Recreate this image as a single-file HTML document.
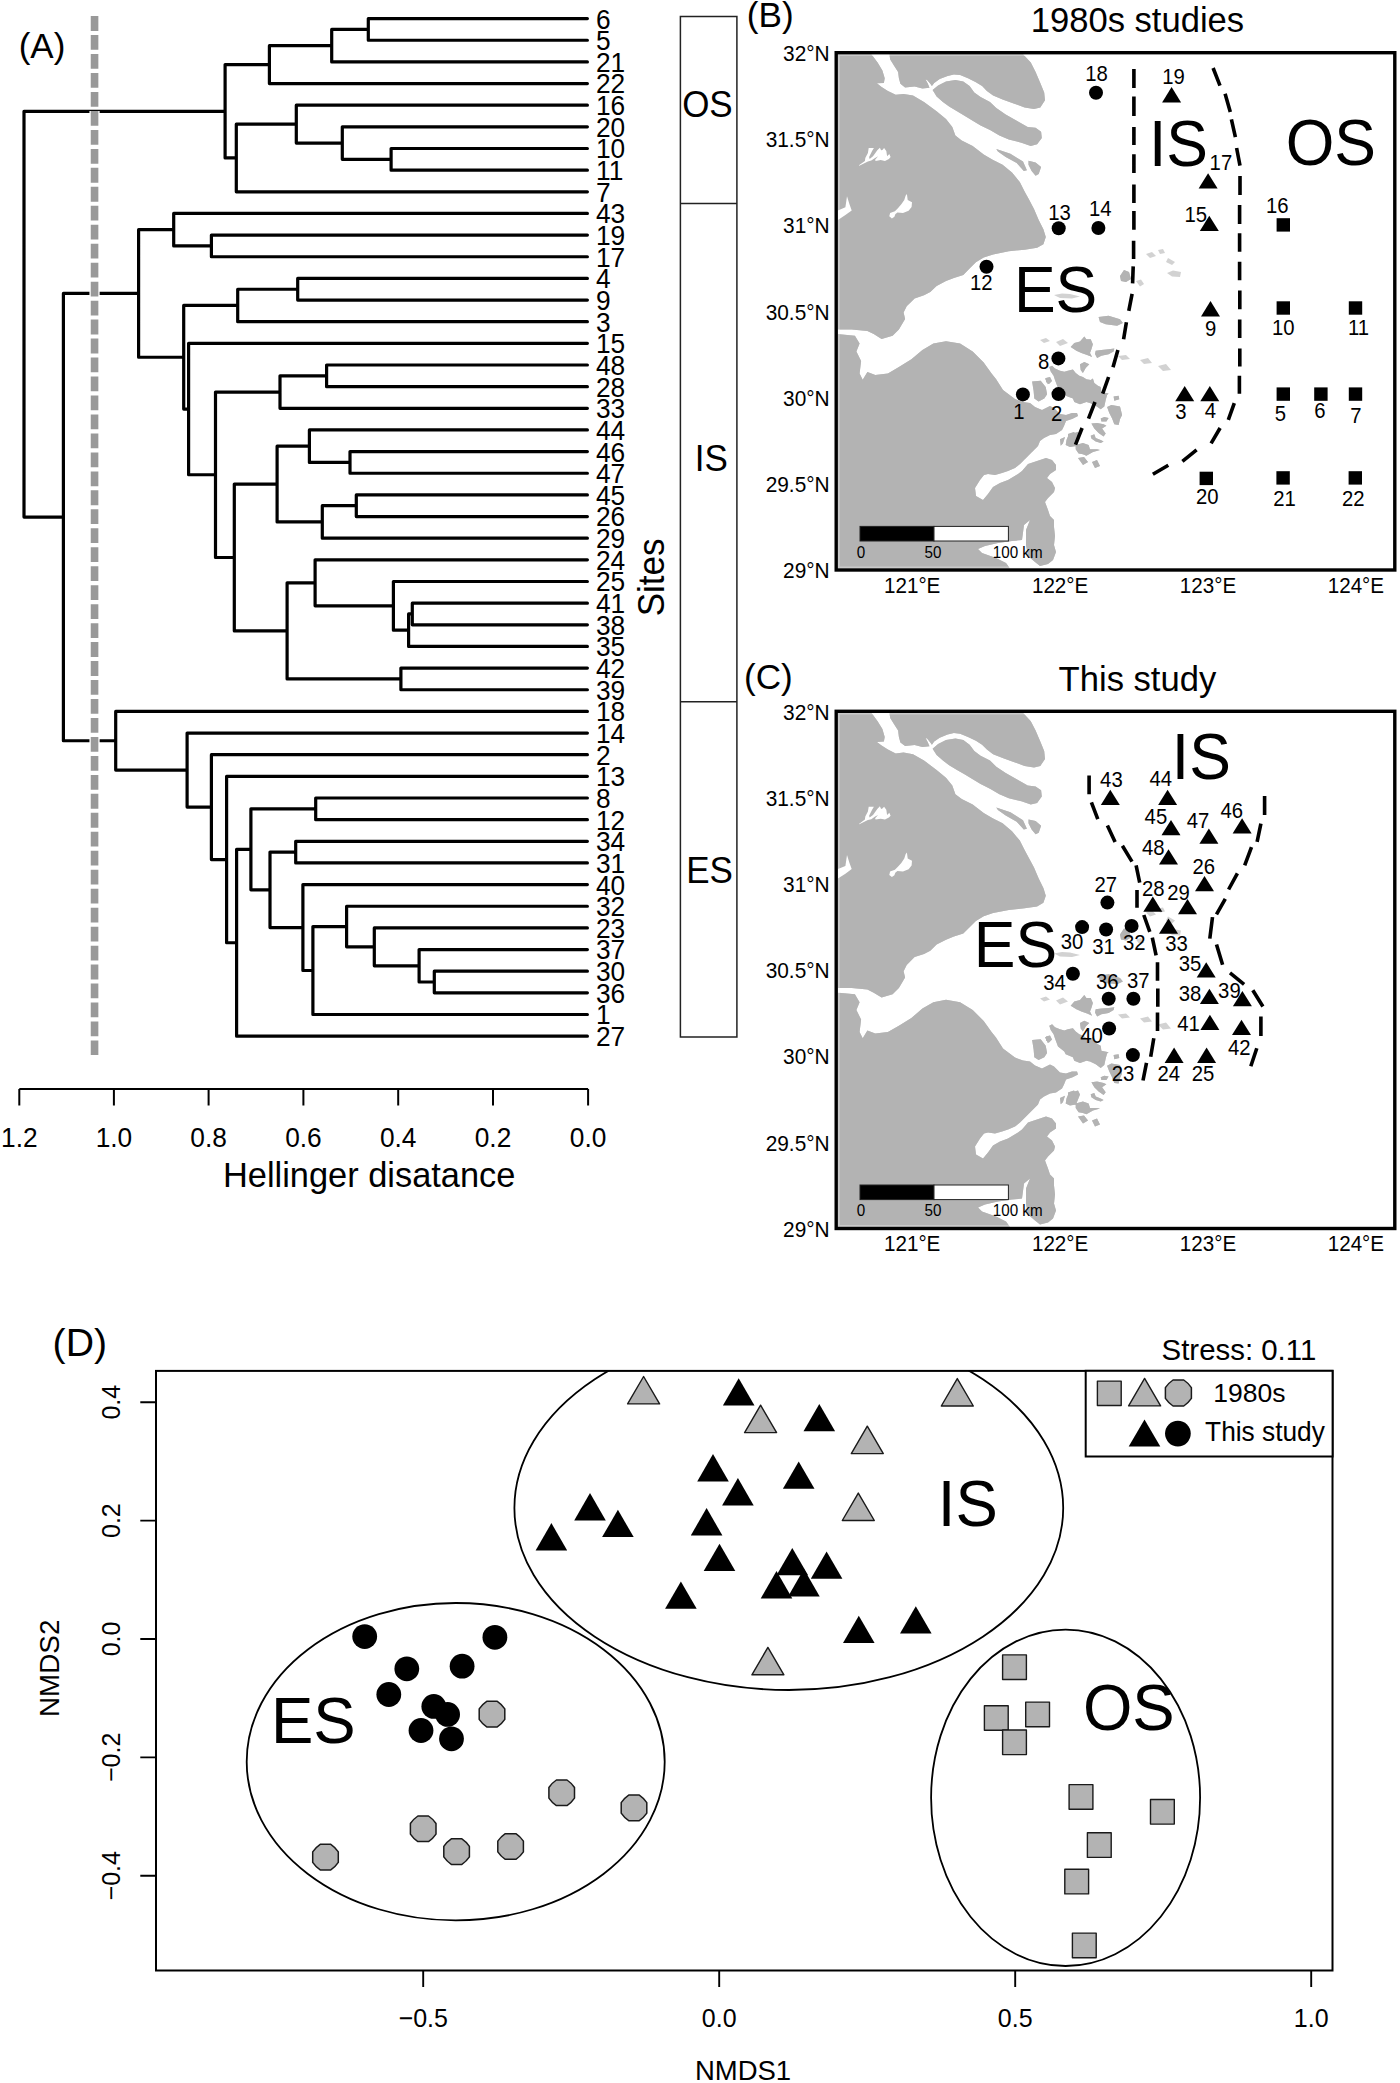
<!DOCTYPE html>
<html><head><meta charset="utf-8"><title>Figure</title>
<style>html,body{margin:0;padding:0;background:#fff;} svg{display:block;}</style>
</head><body>
<svg width="1400" height="2083" viewBox="0 0 1400 2083" font-family="'Liberation Sans', Arial, Helvetica, sans-serif" fill="#000">
<rect width="1400" height="2083" fill="#fff"/>
<path d="M587.4 18.60H368.3V40.25H587.4M368.3 29.43H331.7V61.90H587.4M331.7 45.66H269.4V83.55H587.4M587.4 148.50H391.1V170.15H587.4M587.4 126.85H342.3V159.32H391.1M587.4 105.20H296.3V143.09H342.3M296.3 124.14H236.3V191.80H587.4M269.4 64.61H225.1V157.97H236.3M587.4 235.10H211.4V256.75H587.4M587.4 213.45H173.7V245.93H211.4M587.4 278.40H297.7V300.05H587.4M297.7 289.23H237.7V321.70H587.4M587.4 365.00H326.6V386.65H587.4M326.6 375.82H280.0V408.30H587.4M587.4 451.60H350.0V473.25H587.4M587.4 429.95H309.4V462.43H350.0M587.4 494.90H356.3V516.55H587.4M356.3 505.72H322.3V538.20H587.4M309.4 446.19H277.1V521.96H322.3M587.4 603.15H412.3V624.80H587.4M412.3 613.97H408.6V646.45H587.4M587.4 581.50H393.4V630.21H408.6M587.4 559.85H315.1V605.86H393.4M587.4 668.10H400.9V689.75H587.4M315.1 582.85H287.1V678.92H400.9M277.1 484.07H234.3V630.89H287.1M280.0 392.06H215.5V557.48H234.3M587.4 343.35H188.6V474.77H215.5M237.7 305.46H183.7V409.06H188.6M173.7 229.69H138.6V357.26H183.7M587.4 798.00H315.7V819.65H587.4M587.4 841.30H295.7V862.95H587.4M587.4 971.20H434.3V992.85H587.4M587.4 949.55H419.1V982.02H434.3M587.4 927.90H374.3V965.79H419.1M587.4 906.25H346.6V946.84H374.3M346.6 926.55H312.9V1014.50H587.4M587.4 884.60H302.9V970.52H312.9M295.7 852.12H270.0V927.56H302.9M315.7 808.83H250.9V889.84H270.0M250.9 849.33H236.6V1036.15H587.4M587.4 776.35H226.6V942.74H236.6M587.4 754.70H211.4V859.55H226.6M587.4 733.05H187.1V807.12H211.4M587.4 711.40H115.7V770.09H187.1M138.6 293.47H63.4V740.74H115.7M225.1 111.29H24.0V517.11H63.4" fill="none" stroke="#000" stroke-width="3.2" stroke-linejoin="round" stroke-linecap="round"/>
<line x1="94.55" y1="16.1" x2="94.55" y2="1055" stroke="#fff" stroke-width="10.2" stroke-dasharray="14.8 4.17"/>
<line x1="94.55" y1="16.1" x2="94.55" y2="1055" stroke="#999" stroke-width="7.6" stroke-dasharray="14.8 4.17"/>
<text transform="translate(596.00 28.50) scale(1 1.02)" font-size="26.3">6</text>
<text transform="translate(596.00 50.15) scale(1 1.02)" font-size="26.3">5</text>
<text transform="translate(596.00 71.80) scale(1 1.02)" font-size="26.3">21</text>
<text transform="translate(596.00 93.45) scale(1 1.02)" font-size="26.3">22</text>
<text transform="translate(596.00 115.10) scale(1 1.02)" font-size="26.3">16</text>
<text transform="translate(596.00 136.75) scale(1 1.02)" font-size="26.3">20</text>
<text transform="translate(596.00 158.40) scale(1 1.02)" font-size="26.3">10</text>
<text transform="translate(596.00 180.05) scale(1 1.02)" font-size="26.3">11</text>
<text transform="translate(596.00 201.70) scale(1 1.02)" font-size="26.3">7</text>
<text transform="translate(596.00 223.35) scale(1 1.02)" font-size="26.3">43</text>
<text transform="translate(596.00 245.00) scale(1 1.02)" font-size="26.3">19</text>
<text transform="translate(596.00 266.65) scale(1 1.02)" font-size="26.3">17</text>
<text transform="translate(596.00 288.30) scale(1 1.02)" font-size="26.3">4</text>
<text transform="translate(596.00 309.95) scale(1 1.02)" font-size="26.3">9</text>
<text transform="translate(596.00 331.60) scale(1 1.02)" font-size="26.3">3</text>
<text transform="translate(596.00 353.25) scale(1 1.02)" font-size="26.3">15</text>
<text transform="translate(596.00 374.90) scale(1 1.02)" font-size="26.3">48</text>
<text transform="translate(596.00 396.55) scale(1 1.02)" font-size="26.3">28</text>
<text transform="translate(596.00 418.20) scale(1 1.02)" font-size="26.3">33</text>
<text transform="translate(596.00 439.85) scale(1 1.02)" font-size="26.3">44</text>
<text transform="translate(596.00 461.50) scale(1 1.02)" font-size="26.3">46</text>
<text transform="translate(596.00 483.15) scale(1 1.02)" font-size="26.3">47</text>
<text transform="translate(596.00 504.80) scale(1 1.02)" font-size="26.3">45</text>
<text transform="translate(596.00 526.45) scale(1 1.02)" font-size="26.3">26</text>
<text transform="translate(596.00 548.10) scale(1 1.02)" font-size="26.3">29</text>
<text transform="translate(596.00 569.75) scale(1 1.02)" font-size="26.3">24</text>
<text transform="translate(596.00 591.40) scale(1 1.02)" font-size="26.3">25</text>
<text transform="translate(596.00 613.05) scale(1 1.02)" font-size="26.3">41</text>
<text transform="translate(596.00 634.70) scale(1 1.02)" font-size="26.3">38</text>
<text transform="translate(596.00 656.35) scale(1 1.02)" font-size="26.3">35</text>
<text transform="translate(596.00 678.00) scale(1 1.02)" font-size="26.3">42</text>
<text transform="translate(596.00 699.65) scale(1 1.02)" font-size="26.3">39</text>
<text transform="translate(596.00 721.30) scale(1 1.02)" font-size="26.3">18</text>
<text transform="translate(596.00 742.95) scale(1 1.02)" font-size="26.3">14</text>
<text transform="translate(596.00 764.60) scale(1 1.02)" font-size="26.3">2</text>
<text transform="translate(596.00 786.25) scale(1 1.02)" font-size="26.3">13</text>
<text transform="translate(596.00 807.90) scale(1 1.02)" font-size="26.3">8</text>
<text transform="translate(596.00 829.55) scale(1 1.02)" font-size="26.3">12</text>
<text transform="translate(596.00 851.20) scale(1 1.02)" font-size="26.3">34</text>
<text transform="translate(596.00 872.85) scale(1 1.02)" font-size="26.3">31</text>
<text transform="translate(596.00 894.50) scale(1 1.02)" font-size="26.3">40</text>
<text transform="translate(596.00 916.15) scale(1 1.02)" font-size="26.3">32</text>
<text transform="translate(596.00 937.80) scale(1 1.02)" font-size="26.3">23</text>
<text transform="translate(596.00 959.45) scale(1 1.02)" font-size="26.3">37</text>
<text transform="translate(596.00 981.10) scale(1 1.02)" font-size="26.3">30</text>
<text transform="translate(596.00 1002.75) scale(1 1.02)" font-size="26.3">36</text>
<text transform="translate(596.00 1024.40) scale(1 1.02)" font-size="26.3">1</text>
<text transform="translate(596.00 1046.05) scale(1 1.02)" font-size="26.3">27</text>
<path d="M19.3 1089H588.1M19.3 1089V1105.5M113.9 1089V1105.5M208.6 1089V1105.5M303.4 1089V1105.5M398.2 1089V1105.5M493.0 1089V1105.5M588.1 1089V1105.5" stroke="#000" stroke-width="2" fill="none"/>
<text transform="translate(19.30 1146.60) scale(1 1.02)" font-size="26.3" text-anchor="middle">1.2</text>
<text transform="translate(113.90 1146.60) scale(1 1.02)" font-size="26.3" text-anchor="middle">1.0</text>
<text transform="translate(208.60 1146.60) scale(1 1.02)" font-size="26.3" text-anchor="middle">0.8</text>
<text transform="translate(303.40 1146.60) scale(1 1.02)" font-size="26.3" text-anchor="middle">0.6</text>
<text transform="translate(398.20 1146.60) scale(1 1.02)" font-size="26.3" text-anchor="middle">0.4</text>
<text transform="translate(493.00 1146.60) scale(1 1.02)" font-size="26.3" text-anchor="middle">0.2</text>
<text transform="translate(588.10 1146.60) scale(1 1.02)" font-size="26.3" text-anchor="middle">0.0</text>
<text transform="translate(369.20 1187.40) scale(1 1.03)" font-size="34.4" text-anchor="middle">Hellinger disatance</text>
<text transform="translate(18.70 57.70) scale(1 1.02)" font-size="35">(A)</text>
<path d="M680.4 16.4H736.9V1037.1H680.4ZM680.4 203.4H736.9M680.4 701.8H736.9" fill="none" stroke="#222" stroke-width="1.5"/>
<text transform="translate(707.40 117.40) scale(1 1.03)" font-size="35" text-anchor="middle">OS</text>
<text transform="translate(711.40 471.00) scale(1 1.03)" font-size="35" text-anchor="middle">IS</text>
<text transform="translate(709.50 882.90) scale(1 1.03)" font-size="35" text-anchor="middle">ES</text>
<text transform="translate(663.70 577.40) rotate(-90) scale(1 1.03)" font-size="35" text-anchor="middle">Sites</text>
<defs><clipPath id="lclip"><rect x="839.8" y="55.9" width="553" height="510.6"/></clipPath></defs>
<g transform="translate(0 0)"><path d="M837.9 54.2L871.4 54.2L877.6 62.6L882.4 70.4L884.7 78.3L883.9 83.0L876.9 83.3L881.6 86.9L887.9 90.9L895.7 94.8L903.6 94.0L913.0 95.6L924.0 101.9L936.6 111.3L946.0 119.1L952.3 127.0L955.4 135.6L961.7 140.4L972.7 145.9L983.7 154.5L993.1 160.0L1002.6 164.7L1012.0 172.6L1019.8 182.0L1024.6 191.4L1029.3 200.1L1034.0 208.9L1038.7 219.9L1043.4 229.3L1045.8 237.1L1043.4 244.2L1037.1 247.8L1024.6 249.7L1008.8 251.3L993.1 254.4L983.7 257.6L975.9 262.3L969.6 268.6L963.3 274.9L953.9 278.0L946.0 281.1L936.6 285.9L930.3 292.1L924.0 295.3L914.6 298.4L906.7 306.3L903.6 312.6L905.1 318.9L898.9 329.4L892.6 335.7L881.6 338.9L873.7 334.1L867.4 331.0L851.7 329.4L837.9 329.4ZM889.4 54.2L1023.0 54.2L1030.8 62.6L1035.6 72.0L1040.3 83.0L1044.2 92.4L1045.0 100.3L1040.3 107.4L1034.0 108.9L1024.6 107.4L1013.6 103.4L1002.6 99.5L993.1 95.6L986.9 90.9L982.1 86.1L975.9 82.2L968.0 78.3L960.1 75.1L953.9 74.4L947.6 75.9L939.7 79.1L934.2 83.0L931.9 86.1L930.3 83.8L927.1 79.9L925.6 79.5L927.9 83.8L929.5 87.7L922.4 88.5L914.6 86.5L905.1 87.4L900.4 83.8L898.9 78.3L898.1 72.0L894.1 65.7L890.2 59.4ZM932.6 90.1L938.1 85.4L946.0 81.4L955.4 79.9L963.3 81.4L969.6 86.1L974.3 92.4L980.6 97.1L990.0 101.9L996.3 108.1L1005.7 114.4L1016.7 120.7L1027.7 127.0L1035.6 127.8L1041.1 131.7L1041.8 138.0L1037.1 144.3L1030.8 145.9L1021.4 142.7L1008.8 139.6L999.4 135.6L990.0 130.1L980.6 125.4L972.7 120.7L964.9 116.0L957.0 111.3L949.1 106.6L942.9 101.9L936.6 96.4ZM996.3 149.0L1010.4 153.7L1023.0 161.6L1026.9 170.2L1023.8 171.0L1016.7 163.1L1005.7 156.9L997.9 151.4ZM1028.5 160.8L1035.6 162.4L1041.1 167.1L1038.7 174.1L1035.6 175.7L1031.6 171.0L1028.5 164.7ZM837.9 334.1L854.9 335.7L859.6 343.6L856.4 351.4L861.1 360.9L859.6 373.4L862.7 379.7L867.4 371.9L875.3 375.0L887.9 373.4L898.9 367.1L911.4 359.3L922.4 349.9L933.4 343.6L946.0 341.2L960.1 343.6L972.7 351.4L983.7 362.4L991.6 373.4L996.0 379.0L1003.0 390.0L1015.0 399.0L1023.0 402.0L1030.0 403.0L1035.0 407.0L1042.0 410.0L1046.0 408.0L1050.0 406.0L1054.0 408.0L1060.0 414.0L1066.0 415.0L1072.0 413.0L1077.0 413.0L1078.0 416.0L1072.0 419.0L1066.0 421.0L1064.0 426.0L1062.0 430.0L1056.0 434.0L1050.0 435.0L1044.0 438.0L1040.0 441.0L1038.0 446.0L1032.0 452.0L1025.0 459.0L1020.0 464.0L1015.0 468.0L1008.0 471.0L1002.0 473.0L995.0 475.0L988.0 474.0L984.0 475.0L980.0 480.0L975.0 488.0L976.0 496.0L983.0 500.0L988.0 494.0L993.0 487.0L1000.0 483.0L1008.0 480.0L1013.0 477.0L1018.0 474.0L1022.0 471.0L1028.0 464.0L1034.0 462.0L1040.0 460.0L1046.0 458.0L1052.0 460.0L1056.0 465.0L1056.0 470.0L1050.0 474.0L1047.0 478.0L1052.0 482.0L1055.0 488.0L1054.0 492.0L1048.0 498.0L1045.0 502.0L1048.0 510.0L1050.0 516.0L1054.0 520.0L1054.0 527.0L1055.0 536.0L1054.0 545.0L1056.0 552.0L1053.0 560.0L1048.0 564.0L1040.0 566.0L1035.0 562.0L1028.0 556.0L1026.0 545.0L1026.0 530.0L1030.0 520.0L1024.0 525.0L1022.0 540.0L1012.0 541.0L998.0 543.0L985.0 546.0L978.0 549.0L982.0 553.0L996.0 558.0L1006.0 563.0L1010.0 568.5L837.9 568.5ZM1049.3 367.1L1052.1 365.7L1055.0 368.6L1060.0 370.7L1064.3 371.8L1067.9 370.7L1072.9 369.6L1075.7 372.9L1079.3 375.7L1082.9 377.1L1086.4 379.3L1090.7 380.0L1092.9 378.6L1094.3 382.9L1097.9 385.7L1100.7 387.1L1101.4 392.1L1108.6 393.6L1107.1 395.0L1105.7 400.0L1104.3 406.4L1100.7 409.3L1095.7 405.7L1090.0 402.9L1086.4 402.1L1080.0 404.3L1074.3 402.1L1072.9 398.6L1065.7 395.7L1064.3 392.9L1058.0 388.0L1055.0 380.0L1053.6 375.7L1050.7 371.4ZM1070.7 347.1L1074.3 342.9L1080.0 341.4L1084.3 336.4L1086.4 339.3L1090.7 339.3L1092.9 344.3L1091.4 349.3L1090.0 352.9L1092.1 357.1L1087.1 355.0L1081.4 352.9L1076.4 350.7ZM1095.7 350.7L1101.4 350.0L1108.6 349.3L1114.3 348.6L1113.6 351.4L1108.6 354.3L1101.4 355.7L1097.1 357.9L1095.0 354.0ZM1080.0 364.3L1084.3 362.1L1089.3 364.3L1085.7 367.9L1082.9 372.9L1080.7 370.0ZM1032.1 381.4L1040.7 380.7L1045.7 387.1L1047.1 394.3L1044.3 398.6L1038.6 401.4L1034.3 398.6L1033.6 390.7ZM1045.0 378.6L1050.0 377.1L1051.4 381.4L1047.9 384.3ZM1098.6 317.1L1108.6 315.7L1120.0 319.3L1122.9 322.9L1117.1 325.7L1105.7 324.3L1100.0 322.1ZM1065.7 445.0L1066.5 440.0L1068.6 435.0L1074.3 432.9L1078.0 432.0L1080.0 436.0L1076.0 446.0L1070.0 447.0ZM1075.7 445.0L1082.9 442.9L1088.6 445.0L1090.0 449.3L1097.1 449.3L1100.0 450.0L1093.0 452.0L1086.4 455.7L1082.9 454.3L1078.6 453.6L1075.7 449.3ZM1091.4 423.6L1097.1 422.9L1103.6 424.3L1106.4 425.7L1102.1 428.6L1105.7 433.6L1103.6 436.4L1098.6 432.9L1094.3 428.6ZM1090.7 435.7L1094.3 434.3L1095.7 437.9L1100.7 440.0L1103.6 441.4L1100.7 442.9L1095.7 441.4L1091.4 438.6ZM1100.7 418.6L1104.3 417.1L1108.6 417.9L1106.4 421.4L1101.4 421.4ZM1107.1 407.1L1111.4 405.0L1115.7 405.7L1120.0 406.4L1122.1 415.0L1120.0 419.3L1118.6 425.0L1114.3 424.3L1112.1 418.6L1109.3 412.9ZM1060.0 439.3L1065.0 437.1L1062.9 443.6L1060.7 445.7ZM1113.6 396.4L1118.6 395.7L1119.3 399.3L1114.3 400.7ZM1120.0 276.0L1124.0 270.0L1129.0 272.0L1131.0 279.0L1126.0 282.0L1121.0 281.0ZM1046.0 378.0L1050.0 377.0L1052.0 381.0L1049.0 384.0L1046.0 382.0ZM1068.0 434.0L1074.0 432.0L1077.0 436.0L1076.0 442.0L1072.0 444.0L1068.0 440.0ZM1078.0 458.0L1084.0 457.0L1088.0 462.0L1083.0 465.0ZM1092.0 462.0L1097.0 460.0L1100.0 466.0L1095.0 468.0Z" fill="#c9c9c9"/><path d="M837.9 54.2L871.4 54.2L877.6 62.6L882.4 70.4L884.7 78.3L883.9 83.0L876.9 83.3L881.6 86.9L887.9 90.9L895.7 94.8L903.6 94.0L913.0 95.6L924.0 101.9L936.6 111.3L946.0 119.1L952.3 127.0L955.4 135.6L961.7 140.4L972.7 145.9L983.7 154.5L993.1 160.0L1002.6 164.7L1012.0 172.6L1019.8 182.0L1024.6 191.4L1029.3 200.1L1034.0 208.9L1038.7 219.9L1043.4 229.3L1045.8 237.1L1043.4 244.2L1037.1 247.8L1024.6 249.7L1008.8 251.3L993.1 254.4L983.7 257.6L975.9 262.3L969.6 268.6L963.3 274.9L953.9 278.0L946.0 281.1L936.6 285.9L930.3 292.1L924.0 295.3L914.6 298.4L906.7 306.3L903.6 312.6L905.1 318.9L898.9 329.4L892.6 335.7L881.6 338.9L873.7 334.1L867.4 331.0L851.7 329.4L837.9 329.4ZM889.4 54.2L1023.0 54.2L1030.8 62.6L1035.6 72.0L1040.3 83.0L1044.2 92.4L1045.0 100.3L1040.3 107.4L1034.0 108.9L1024.6 107.4L1013.6 103.4L1002.6 99.5L993.1 95.6L986.9 90.9L982.1 86.1L975.9 82.2L968.0 78.3L960.1 75.1L953.9 74.4L947.6 75.9L939.7 79.1L934.2 83.0L931.9 86.1L930.3 83.8L927.1 79.9L925.6 79.5L927.9 83.8L929.5 87.7L922.4 88.5L914.6 86.5L905.1 87.4L900.4 83.8L898.9 78.3L898.1 72.0L894.1 65.7L890.2 59.4ZM932.6 90.1L938.1 85.4L946.0 81.4L955.4 79.9L963.3 81.4L969.6 86.1L974.3 92.4L980.6 97.1L990.0 101.9L996.3 108.1L1005.7 114.4L1016.7 120.7L1027.7 127.0L1035.6 127.8L1041.1 131.7L1041.8 138.0L1037.1 144.3L1030.8 145.9L1021.4 142.7L1008.8 139.6L999.4 135.6L990.0 130.1L980.6 125.4L972.7 120.7L964.9 116.0L957.0 111.3L949.1 106.6L942.9 101.9L936.6 96.4ZM996.3 149.0L1010.4 153.7L1023.0 161.6L1026.9 170.2L1023.8 171.0L1016.7 163.1L1005.7 156.9L997.9 151.4ZM1028.5 160.8L1035.6 162.4L1041.1 167.1L1038.7 174.1L1035.6 175.7L1031.6 171.0L1028.5 164.7ZM837.9 334.1L854.9 335.7L859.6 343.6L856.4 351.4L861.1 360.9L859.6 373.4L862.7 379.7L867.4 371.9L875.3 375.0L887.9 373.4L898.9 367.1L911.4 359.3L922.4 349.9L933.4 343.6L946.0 341.2L960.1 343.6L972.7 351.4L983.7 362.4L991.6 373.4L996.0 379.0L1003.0 390.0L1015.0 399.0L1023.0 402.0L1030.0 403.0L1035.0 407.0L1042.0 410.0L1046.0 408.0L1050.0 406.0L1054.0 408.0L1060.0 414.0L1066.0 415.0L1072.0 413.0L1077.0 413.0L1078.0 416.0L1072.0 419.0L1066.0 421.0L1064.0 426.0L1062.0 430.0L1056.0 434.0L1050.0 435.0L1044.0 438.0L1040.0 441.0L1038.0 446.0L1032.0 452.0L1025.0 459.0L1020.0 464.0L1015.0 468.0L1008.0 471.0L1002.0 473.0L995.0 475.0L988.0 474.0L984.0 475.0L980.0 480.0L975.0 488.0L976.0 496.0L983.0 500.0L988.0 494.0L993.0 487.0L1000.0 483.0L1008.0 480.0L1013.0 477.0L1018.0 474.0L1022.0 471.0L1028.0 464.0L1034.0 462.0L1040.0 460.0L1046.0 458.0L1052.0 460.0L1056.0 465.0L1056.0 470.0L1050.0 474.0L1047.0 478.0L1052.0 482.0L1055.0 488.0L1054.0 492.0L1048.0 498.0L1045.0 502.0L1048.0 510.0L1050.0 516.0L1054.0 520.0L1054.0 527.0L1055.0 536.0L1054.0 545.0L1056.0 552.0L1053.0 560.0L1048.0 564.0L1040.0 566.0L1035.0 562.0L1028.0 556.0L1026.0 545.0L1026.0 530.0L1030.0 520.0L1024.0 525.0L1022.0 540.0L1012.0 541.0L998.0 543.0L985.0 546.0L978.0 549.0L982.0 553.0L996.0 558.0L1006.0 563.0L1010.0 568.5L837.9 568.5ZM1049.3 367.1L1052.1 365.7L1055.0 368.6L1060.0 370.7L1064.3 371.8L1067.9 370.7L1072.9 369.6L1075.7 372.9L1079.3 375.7L1082.9 377.1L1086.4 379.3L1090.7 380.0L1092.9 378.6L1094.3 382.9L1097.9 385.7L1100.7 387.1L1101.4 392.1L1108.6 393.6L1107.1 395.0L1105.7 400.0L1104.3 406.4L1100.7 409.3L1095.7 405.7L1090.0 402.9L1086.4 402.1L1080.0 404.3L1074.3 402.1L1072.9 398.6L1065.7 395.7L1064.3 392.9L1058.0 388.0L1055.0 380.0L1053.6 375.7L1050.7 371.4ZM1070.7 347.1L1074.3 342.9L1080.0 341.4L1084.3 336.4L1086.4 339.3L1090.7 339.3L1092.9 344.3L1091.4 349.3L1090.0 352.9L1092.1 357.1L1087.1 355.0L1081.4 352.9L1076.4 350.7ZM1095.7 350.7L1101.4 350.0L1108.6 349.3L1114.3 348.6L1113.6 351.4L1108.6 354.3L1101.4 355.7L1097.1 357.9L1095.0 354.0ZM1080.0 364.3L1084.3 362.1L1089.3 364.3L1085.7 367.9L1082.9 372.9L1080.7 370.0ZM1032.1 381.4L1040.7 380.7L1045.7 387.1L1047.1 394.3L1044.3 398.6L1038.6 401.4L1034.3 398.6L1033.6 390.7ZM1045.0 378.6L1050.0 377.1L1051.4 381.4L1047.9 384.3ZM1098.6 317.1L1108.6 315.7L1120.0 319.3L1122.9 322.9L1117.1 325.7L1105.7 324.3L1100.0 322.1ZM1065.7 445.0L1066.5 440.0L1068.6 435.0L1074.3 432.9L1078.0 432.0L1080.0 436.0L1076.0 446.0L1070.0 447.0ZM1075.7 445.0L1082.9 442.9L1088.6 445.0L1090.0 449.3L1097.1 449.3L1100.0 450.0L1093.0 452.0L1086.4 455.7L1082.9 454.3L1078.6 453.6L1075.7 449.3ZM1091.4 423.6L1097.1 422.9L1103.6 424.3L1106.4 425.7L1102.1 428.6L1105.7 433.6L1103.6 436.4L1098.6 432.9L1094.3 428.6ZM1090.7 435.7L1094.3 434.3L1095.7 437.9L1100.7 440.0L1103.6 441.4L1100.7 442.9L1095.7 441.4L1091.4 438.6ZM1100.7 418.6L1104.3 417.1L1108.6 417.9L1106.4 421.4L1101.4 421.4ZM1107.1 407.1L1111.4 405.0L1115.7 405.7L1120.0 406.4L1122.1 415.0L1120.0 419.3L1118.6 425.0L1114.3 424.3L1112.1 418.6L1109.3 412.9ZM1060.0 439.3L1065.0 437.1L1062.9 443.6L1060.7 445.7ZM1113.6 396.4L1118.6 395.7L1119.3 399.3L1114.3 400.7ZM1120.0 276.0L1124.0 270.0L1129.0 272.0L1131.0 279.0L1126.0 282.0L1121.0 281.0ZM1046.0 378.0L1050.0 377.0L1052.0 381.0L1049.0 384.0L1046.0 382.0ZM1068.0 434.0L1074.0 432.0L1077.0 436.0L1076.0 442.0L1072.0 444.0L1068.0 440.0ZM1078.0 458.0L1084.0 457.0L1088.0 462.0L1083.0 465.0ZM1092.0 462.0L1097.0 460.0L1100.0 466.0L1095.0 468.0Z" fill="#b3b3b3" clip-path="url(#lclip)"/><path d="M1136.0 281.0L1141.0 279.5L1144.0 284.0L1140.0 286.5ZM1146.0 254.0L1152.0 252.0L1156.0 256.0L1150.0 258.0ZM1158.0 250.0L1163.0 249.0L1165.0 253.0L1160.0 254.0ZM1168.0 258.0L1175.0 262.0L1172.0 265.0L1166.0 262.0ZM1167.0 273.0L1173.0 270.5L1181.0 272.0L1180.0 277.0L1172.0 276.5ZM1054.0 295.0L1062.0 293.5L1070.0 294.0L1080.0 296.5L1072.0 298.5L1060.0 298.0ZM1040.0 340.0L1046.0 338.0L1050.0 341.0L1044.0 343.0ZM1056.0 342.0L1063.0 339.0L1068.0 343.0L1060.0 346.0ZM1118.0 356.0L1126.0 355.0L1130.0 359.0L1122.0 360.0ZM1140.0 360.0L1148.0 358.0L1152.0 363.0L1144.0 364.0ZM1158.0 366.0L1166.0 364.0L1171.0 370.0L1163.0 371.0Z" fill="#d2d2d2"/><path d="M858.9 165.3L864.9 161.0L865.3 158.0L867.9 152.9L868.7 148.1L873.9 148.1L872.1 151.1L869.1 157.1L869.6 158.9L873.0 156.3L877.3 150.3L879.9 147.7L881.1 150.3L882.4 149.9L884.1 148.1L886.3 151.1L887.1 156.3L889.3 154.1L890.6 157.1L888.9 158.9L885.0 161.0L880.7 160.1L875.6 161.0L875.1 159.7L878.1 156.3L875.1 158.0L871.3 160.6L867.9 161.4L859.3 165.7ZM906.9 194.0L907.7 200.0L912.0 202.2L911.6 206.9L908.6 210.7L903.0 212.9L897.4 212.4L895.3 214.2L894.4 216.7L891.9 218.4L889.3 216.3L890.1 212.9L894.9 211.2L897.9 208.2L901.3 204.3L904.3 200.0L905.6 195.7ZM837.9 210.4L845.4 207.3L847.0 196.3L849.4 204.1L851.7 210.4L845.4 215.1L837.9 219.9Z" fill="#fff"/></g>
<g transform="translate(0 658.6)"><path d="M837.9 54.2L871.4 54.2L877.6 62.6L882.4 70.4L884.7 78.3L883.9 83.0L876.9 83.3L881.6 86.9L887.9 90.9L895.7 94.8L903.6 94.0L913.0 95.6L924.0 101.9L936.6 111.3L946.0 119.1L952.3 127.0L955.4 135.6L961.7 140.4L972.7 145.9L983.7 154.5L993.1 160.0L1002.6 164.7L1012.0 172.6L1019.8 182.0L1024.6 191.4L1029.3 200.1L1034.0 208.9L1038.7 219.9L1043.4 229.3L1045.8 237.1L1043.4 244.2L1037.1 247.8L1024.6 249.7L1008.8 251.3L993.1 254.4L983.7 257.6L975.9 262.3L969.6 268.6L963.3 274.9L953.9 278.0L946.0 281.1L936.6 285.9L930.3 292.1L924.0 295.3L914.6 298.4L906.7 306.3L903.6 312.6L905.1 318.9L898.9 329.4L892.6 335.7L881.6 338.9L873.7 334.1L867.4 331.0L851.7 329.4L837.9 329.4ZM889.4 54.2L1023.0 54.2L1030.8 62.6L1035.6 72.0L1040.3 83.0L1044.2 92.4L1045.0 100.3L1040.3 107.4L1034.0 108.9L1024.6 107.4L1013.6 103.4L1002.6 99.5L993.1 95.6L986.9 90.9L982.1 86.1L975.9 82.2L968.0 78.3L960.1 75.1L953.9 74.4L947.6 75.9L939.7 79.1L934.2 83.0L931.9 86.1L930.3 83.8L927.1 79.9L925.6 79.5L927.9 83.8L929.5 87.7L922.4 88.5L914.6 86.5L905.1 87.4L900.4 83.8L898.9 78.3L898.1 72.0L894.1 65.7L890.2 59.4ZM932.6 90.1L938.1 85.4L946.0 81.4L955.4 79.9L963.3 81.4L969.6 86.1L974.3 92.4L980.6 97.1L990.0 101.9L996.3 108.1L1005.7 114.4L1016.7 120.7L1027.7 127.0L1035.6 127.8L1041.1 131.7L1041.8 138.0L1037.1 144.3L1030.8 145.9L1021.4 142.7L1008.8 139.6L999.4 135.6L990.0 130.1L980.6 125.4L972.7 120.7L964.9 116.0L957.0 111.3L949.1 106.6L942.9 101.9L936.6 96.4ZM996.3 149.0L1010.4 153.7L1023.0 161.6L1026.9 170.2L1023.8 171.0L1016.7 163.1L1005.7 156.9L997.9 151.4ZM1028.5 160.8L1035.6 162.4L1041.1 167.1L1038.7 174.1L1035.6 175.7L1031.6 171.0L1028.5 164.7ZM837.9 334.1L854.9 335.7L859.6 343.6L856.4 351.4L861.1 360.9L859.6 373.4L862.7 379.7L867.4 371.9L875.3 375.0L887.9 373.4L898.9 367.1L911.4 359.3L922.4 349.9L933.4 343.6L946.0 341.2L960.1 343.6L972.7 351.4L983.7 362.4L991.6 373.4L996.0 379.0L1003.0 390.0L1015.0 399.0L1023.0 402.0L1030.0 403.0L1035.0 407.0L1042.0 410.0L1046.0 408.0L1050.0 406.0L1054.0 408.0L1060.0 414.0L1066.0 415.0L1072.0 413.0L1077.0 413.0L1078.0 416.0L1072.0 419.0L1066.0 421.0L1064.0 426.0L1062.0 430.0L1056.0 434.0L1050.0 435.0L1044.0 438.0L1040.0 441.0L1038.0 446.0L1032.0 452.0L1025.0 459.0L1020.0 464.0L1015.0 468.0L1008.0 471.0L1002.0 473.0L995.0 475.0L988.0 474.0L984.0 475.0L980.0 480.0L975.0 488.0L976.0 496.0L983.0 500.0L988.0 494.0L993.0 487.0L1000.0 483.0L1008.0 480.0L1013.0 477.0L1018.0 474.0L1022.0 471.0L1028.0 464.0L1034.0 462.0L1040.0 460.0L1046.0 458.0L1052.0 460.0L1056.0 465.0L1056.0 470.0L1050.0 474.0L1047.0 478.0L1052.0 482.0L1055.0 488.0L1054.0 492.0L1048.0 498.0L1045.0 502.0L1048.0 510.0L1050.0 516.0L1054.0 520.0L1054.0 527.0L1055.0 536.0L1054.0 545.0L1056.0 552.0L1053.0 560.0L1048.0 564.0L1040.0 566.0L1035.0 562.0L1028.0 556.0L1026.0 545.0L1026.0 530.0L1030.0 520.0L1024.0 525.0L1022.0 540.0L1012.0 541.0L998.0 543.0L985.0 546.0L978.0 549.0L982.0 553.0L996.0 558.0L1006.0 563.0L1010.0 568.5L837.9 568.5ZM1049.3 367.1L1052.1 365.7L1055.0 368.6L1060.0 370.7L1064.3 371.8L1067.9 370.7L1072.9 369.6L1075.7 372.9L1079.3 375.7L1082.9 377.1L1086.4 379.3L1090.7 380.0L1092.9 378.6L1094.3 382.9L1097.9 385.7L1100.7 387.1L1101.4 392.1L1108.6 393.6L1107.1 395.0L1105.7 400.0L1104.3 406.4L1100.7 409.3L1095.7 405.7L1090.0 402.9L1086.4 402.1L1080.0 404.3L1074.3 402.1L1072.9 398.6L1065.7 395.7L1064.3 392.9L1058.0 388.0L1055.0 380.0L1053.6 375.7L1050.7 371.4ZM1070.7 347.1L1074.3 342.9L1080.0 341.4L1084.3 336.4L1086.4 339.3L1090.7 339.3L1092.9 344.3L1091.4 349.3L1090.0 352.9L1092.1 357.1L1087.1 355.0L1081.4 352.9L1076.4 350.7ZM1095.7 350.7L1101.4 350.0L1108.6 349.3L1114.3 348.6L1113.6 351.4L1108.6 354.3L1101.4 355.7L1097.1 357.9L1095.0 354.0ZM1080.0 364.3L1084.3 362.1L1089.3 364.3L1085.7 367.9L1082.9 372.9L1080.7 370.0ZM1032.1 381.4L1040.7 380.7L1045.7 387.1L1047.1 394.3L1044.3 398.6L1038.6 401.4L1034.3 398.6L1033.6 390.7ZM1045.0 378.6L1050.0 377.1L1051.4 381.4L1047.9 384.3ZM1098.6 317.1L1108.6 315.7L1120.0 319.3L1122.9 322.9L1117.1 325.7L1105.7 324.3L1100.0 322.1ZM1065.7 445.0L1066.5 440.0L1068.6 435.0L1074.3 432.9L1078.0 432.0L1080.0 436.0L1076.0 446.0L1070.0 447.0ZM1075.7 445.0L1082.9 442.9L1088.6 445.0L1090.0 449.3L1097.1 449.3L1100.0 450.0L1093.0 452.0L1086.4 455.7L1082.9 454.3L1078.6 453.6L1075.7 449.3ZM1091.4 423.6L1097.1 422.9L1103.6 424.3L1106.4 425.7L1102.1 428.6L1105.7 433.6L1103.6 436.4L1098.6 432.9L1094.3 428.6ZM1090.7 435.7L1094.3 434.3L1095.7 437.9L1100.7 440.0L1103.6 441.4L1100.7 442.9L1095.7 441.4L1091.4 438.6ZM1100.7 418.6L1104.3 417.1L1108.6 417.9L1106.4 421.4L1101.4 421.4ZM1107.1 407.1L1111.4 405.0L1115.7 405.7L1120.0 406.4L1122.1 415.0L1120.0 419.3L1118.6 425.0L1114.3 424.3L1112.1 418.6L1109.3 412.9ZM1060.0 439.3L1065.0 437.1L1062.9 443.6L1060.7 445.7ZM1113.6 396.4L1118.6 395.7L1119.3 399.3L1114.3 400.7ZM1120.0 276.0L1124.0 270.0L1129.0 272.0L1131.0 279.0L1126.0 282.0L1121.0 281.0ZM1046.0 378.0L1050.0 377.0L1052.0 381.0L1049.0 384.0L1046.0 382.0ZM1068.0 434.0L1074.0 432.0L1077.0 436.0L1076.0 442.0L1072.0 444.0L1068.0 440.0ZM1078.0 458.0L1084.0 457.0L1088.0 462.0L1083.0 465.0ZM1092.0 462.0L1097.0 460.0L1100.0 466.0L1095.0 468.0Z" fill="#c9c9c9"/><path d="M837.9 54.2L871.4 54.2L877.6 62.6L882.4 70.4L884.7 78.3L883.9 83.0L876.9 83.3L881.6 86.9L887.9 90.9L895.7 94.8L903.6 94.0L913.0 95.6L924.0 101.9L936.6 111.3L946.0 119.1L952.3 127.0L955.4 135.6L961.7 140.4L972.7 145.9L983.7 154.5L993.1 160.0L1002.6 164.7L1012.0 172.6L1019.8 182.0L1024.6 191.4L1029.3 200.1L1034.0 208.9L1038.7 219.9L1043.4 229.3L1045.8 237.1L1043.4 244.2L1037.1 247.8L1024.6 249.7L1008.8 251.3L993.1 254.4L983.7 257.6L975.9 262.3L969.6 268.6L963.3 274.9L953.9 278.0L946.0 281.1L936.6 285.9L930.3 292.1L924.0 295.3L914.6 298.4L906.7 306.3L903.6 312.6L905.1 318.9L898.9 329.4L892.6 335.7L881.6 338.9L873.7 334.1L867.4 331.0L851.7 329.4L837.9 329.4ZM889.4 54.2L1023.0 54.2L1030.8 62.6L1035.6 72.0L1040.3 83.0L1044.2 92.4L1045.0 100.3L1040.3 107.4L1034.0 108.9L1024.6 107.4L1013.6 103.4L1002.6 99.5L993.1 95.6L986.9 90.9L982.1 86.1L975.9 82.2L968.0 78.3L960.1 75.1L953.9 74.4L947.6 75.9L939.7 79.1L934.2 83.0L931.9 86.1L930.3 83.8L927.1 79.9L925.6 79.5L927.9 83.8L929.5 87.7L922.4 88.5L914.6 86.5L905.1 87.4L900.4 83.8L898.9 78.3L898.1 72.0L894.1 65.7L890.2 59.4ZM932.6 90.1L938.1 85.4L946.0 81.4L955.4 79.9L963.3 81.4L969.6 86.1L974.3 92.4L980.6 97.1L990.0 101.9L996.3 108.1L1005.7 114.4L1016.7 120.7L1027.7 127.0L1035.6 127.8L1041.1 131.7L1041.8 138.0L1037.1 144.3L1030.8 145.9L1021.4 142.7L1008.8 139.6L999.4 135.6L990.0 130.1L980.6 125.4L972.7 120.7L964.9 116.0L957.0 111.3L949.1 106.6L942.9 101.9L936.6 96.4ZM996.3 149.0L1010.4 153.7L1023.0 161.6L1026.9 170.2L1023.8 171.0L1016.7 163.1L1005.7 156.9L997.9 151.4ZM1028.5 160.8L1035.6 162.4L1041.1 167.1L1038.7 174.1L1035.6 175.7L1031.6 171.0L1028.5 164.7ZM837.9 334.1L854.9 335.7L859.6 343.6L856.4 351.4L861.1 360.9L859.6 373.4L862.7 379.7L867.4 371.9L875.3 375.0L887.9 373.4L898.9 367.1L911.4 359.3L922.4 349.9L933.4 343.6L946.0 341.2L960.1 343.6L972.7 351.4L983.7 362.4L991.6 373.4L996.0 379.0L1003.0 390.0L1015.0 399.0L1023.0 402.0L1030.0 403.0L1035.0 407.0L1042.0 410.0L1046.0 408.0L1050.0 406.0L1054.0 408.0L1060.0 414.0L1066.0 415.0L1072.0 413.0L1077.0 413.0L1078.0 416.0L1072.0 419.0L1066.0 421.0L1064.0 426.0L1062.0 430.0L1056.0 434.0L1050.0 435.0L1044.0 438.0L1040.0 441.0L1038.0 446.0L1032.0 452.0L1025.0 459.0L1020.0 464.0L1015.0 468.0L1008.0 471.0L1002.0 473.0L995.0 475.0L988.0 474.0L984.0 475.0L980.0 480.0L975.0 488.0L976.0 496.0L983.0 500.0L988.0 494.0L993.0 487.0L1000.0 483.0L1008.0 480.0L1013.0 477.0L1018.0 474.0L1022.0 471.0L1028.0 464.0L1034.0 462.0L1040.0 460.0L1046.0 458.0L1052.0 460.0L1056.0 465.0L1056.0 470.0L1050.0 474.0L1047.0 478.0L1052.0 482.0L1055.0 488.0L1054.0 492.0L1048.0 498.0L1045.0 502.0L1048.0 510.0L1050.0 516.0L1054.0 520.0L1054.0 527.0L1055.0 536.0L1054.0 545.0L1056.0 552.0L1053.0 560.0L1048.0 564.0L1040.0 566.0L1035.0 562.0L1028.0 556.0L1026.0 545.0L1026.0 530.0L1030.0 520.0L1024.0 525.0L1022.0 540.0L1012.0 541.0L998.0 543.0L985.0 546.0L978.0 549.0L982.0 553.0L996.0 558.0L1006.0 563.0L1010.0 568.5L837.9 568.5ZM1049.3 367.1L1052.1 365.7L1055.0 368.6L1060.0 370.7L1064.3 371.8L1067.9 370.7L1072.9 369.6L1075.7 372.9L1079.3 375.7L1082.9 377.1L1086.4 379.3L1090.7 380.0L1092.9 378.6L1094.3 382.9L1097.9 385.7L1100.7 387.1L1101.4 392.1L1108.6 393.6L1107.1 395.0L1105.7 400.0L1104.3 406.4L1100.7 409.3L1095.7 405.7L1090.0 402.9L1086.4 402.1L1080.0 404.3L1074.3 402.1L1072.9 398.6L1065.7 395.7L1064.3 392.9L1058.0 388.0L1055.0 380.0L1053.6 375.7L1050.7 371.4ZM1070.7 347.1L1074.3 342.9L1080.0 341.4L1084.3 336.4L1086.4 339.3L1090.7 339.3L1092.9 344.3L1091.4 349.3L1090.0 352.9L1092.1 357.1L1087.1 355.0L1081.4 352.9L1076.4 350.7ZM1095.7 350.7L1101.4 350.0L1108.6 349.3L1114.3 348.6L1113.6 351.4L1108.6 354.3L1101.4 355.7L1097.1 357.9L1095.0 354.0ZM1080.0 364.3L1084.3 362.1L1089.3 364.3L1085.7 367.9L1082.9 372.9L1080.7 370.0ZM1032.1 381.4L1040.7 380.7L1045.7 387.1L1047.1 394.3L1044.3 398.6L1038.6 401.4L1034.3 398.6L1033.6 390.7ZM1045.0 378.6L1050.0 377.1L1051.4 381.4L1047.9 384.3ZM1098.6 317.1L1108.6 315.7L1120.0 319.3L1122.9 322.9L1117.1 325.7L1105.7 324.3L1100.0 322.1ZM1065.7 445.0L1066.5 440.0L1068.6 435.0L1074.3 432.9L1078.0 432.0L1080.0 436.0L1076.0 446.0L1070.0 447.0ZM1075.7 445.0L1082.9 442.9L1088.6 445.0L1090.0 449.3L1097.1 449.3L1100.0 450.0L1093.0 452.0L1086.4 455.7L1082.9 454.3L1078.6 453.6L1075.7 449.3ZM1091.4 423.6L1097.1 422.9L1103.6 424.3L1106.4 425.7L1102.1 428.6L1105.7 433.6L1103.6 436.4L1098.6 432.9L1094.3 428.6ZM1090.7 435.7L1094.3 434.3L1095.7 437.9L1100.7 440.0L1103.6 441.4L1100.7 442.9L1095.7 441.4L1091.4 438.6ZM1100.7 418.6L1104.3 417.1L1108.6 417.9L1106.4 421.4L1101.4 421.4ZM1107.1 407.1L1111.4 405.0L1115.7 405.7L1120.0 406.4L1122.1 415.0L1120.0 419.3L1118.6 425.0L1114.3 424.3L1112.1 418.6L1109.3 412.9ZM1060.0 439.3L1065.0 437.1L1062.9 443.6L1060.7 445.7ZM1113.6 396.4L1118.6 395.7L1119.3 399.3L1114.3 400.7ZM1120.0 276.0L1124.0 270.0L1129.0 272.0L1131.0 279.0L1126.0 282.0L1121.0 281.0ZM1046.0 378.0L1050.0 377.0L1052.0 381.0L1049.0 384.0L1046.0 382.0ZM1068.0 434.0L1074.0 432.0L1077.0 436.0L1076.0 442.0L1072.0 444.0L1068.0 440.0ZM1078.0 458.0L1084.0 457.0L1088.0 462.0L1083.0 465.0ZM1092.0 462.0L1097.0 460.0L1100.0 466.0L1095.0 468.0Z" fill="#b3b3b3" clip-path="url(#lclip)"/><path d="M1136.0 281.0L1141.0 279.5L1144.0 284.0L1140.0 286.5ZM1146.0 254.0L1152.0 252.0L1156.0 256.0L1150.0 258.0ZM1158.0 250.0L1163.0 249.0L1165.0 253.0L1160.0 254.0ZM1168.0 258.0L1175.0 262.0L1172.0 265.0L1166.0 262.0ZM1167.0 273.0L1173.0 270.5L1181.0 272.0L1180.0 277.0L1172.0 276.5ZM1054.0 295.0L1062.0 293.5L1070.0 294.0L1080.0 296.5L1072.0 298.5L1060.0 298.0ZM1040.0 340.0L1046.0 338.0L1050.0 341.0L1044.0 343.0ZM1056.0 342.0L1063.0 339.0L1068.0 343.0L1060.0 346.0ZM1118.0 356.0L1126.0 355.0L1130.0 359.0L1122.0 360.0ZM1140.0 360.0L1148.0 358.0L1152.0 363.0L1144.0 364.0ZM1158.0 366.0L1166.0 364.0L1171.0 370.0L1163.0 371.0Z" fill="#d2d2d2"/><path d="M858.9 165.3L864.9 161.0L865.3 158.0L867.9 152.9L868.7 148.1L873.9 148.1L872.1 151.1L869.1 157.1L869.6 158.9L873.0 156.3L877.3 150.3L879.9 147.7L881.1 150.3L882.4 149.9L884.1 148.1L886.3 151.1L887.1 156.3L889.3 154.1L890.6 157.1L888.9 158.9L885.0 161.0L880.7 160.1L875.6 161.0L875.1 159.7L878.1 156.3L875.1 158.0L871.3 160.6L867.9 161.4L859.3 165.7ZM906.9 194.0L907.7 200.0L912.0 202.2L911.6 206.9L908.6 210.7L903.0 212.9L897.4 212.4L895.3 214.2L894.4 216.7L891.9 218.4L889.3 216.3L890.1 212.9L894.9 211.2L897.9 208.2L901.3 204.3L904.3 200.0L905.6 195.7ZM837.9 210.4L845.4 207.3L847.0 196.3L849.4 204.1L851.7 210.4L845.4 215.1L837.9 219.9Z" fill="#fff"/></g>
<rect x="836.2" y="52.7" width="558.6" height="517.3" fill="none" stroke="#000" stroke-width="3.4"/>
<text transform="translate(829.60 61.00) scale(1 1.05)" font-size="20.85" text-anchor="end">32°N</text>
<text transform="translate(829.60 147.22) scale(1 1.05)" font-size="20.85" text-anchor="end">31.5°N</text>
<text transform="translate(829.60 233.43) scale(1 1.05)" font-size="20.85" text-anchor="end">31°N</text>
<text transform="translate(829.60 319.64) scale(1 1.05)" font-size="20.85" text-anchor="end">30.5°N</text>
<text transform="translate(829.60 405.86) scale(1 1.05)" font-size="20.85" text-anchor="end">30°N</text>
<text transform="translate(829.60 492.08) scale(1 1.05)" font-size="20.85" text-anchor="end">29.5°N</text>
<text transform="translate(829.60 578.29) scale(1 1.05)" font-size="20.85" text-anchor="end">29°N</text>
<text transform="translate(912.20 592.80) scale(1 1.05)" font-size="20.6" text-anchor="middle">121°E</text>
<text transform="translate(1060.10 592.80) scale(1 1.05)" font-size="20.6" text-anchor="middle">122°E</text>
<text transform="translate(1208.00 592.80) scale(1 1.05)" font-size="20.6" text-anchor="middle">123°E</text>
<text transform="translate(1355.90 592.80) scale(1 1.05)" font-size="20.6" text-anchor="middle">124°E</text>
<text transform="translate(1137.40 32.20) scale(1 1.03)" font-size="34.6" text-anchor="middle">1980s studies</text>
<text transform="translate(746.80 26.60) scale(1 1.02)" font-size="35.1">(B)</text>
<rect x="860" y="526.4" width="74" height="14.6" fill="#000" stroke="#222" stroke-width="1"/>
<rect x="934" y="526.4" width="74.4" height="14.6" fill="#fff" stroke="#222" stroke-width="1"/>
<text transform="translate(861.00 557.60) scale(1 1.03)" font-size="15.2" text-anchor="middle">0</text>
<text transform="translate(933.00 557.60) scale(1 1.03)" font-size="15.2" text-anchor="middle">50</text>
<text transform="translate(992.80 557.60) scale(1 1.03)" font-size="15.2">100 km</text>
<rect x="836.2" y="711.3000000000001" width="558.6" height="517.2" fill="none" stroke="#000" stroke-width="3.4"/>
<text transform="translate(829.60 719.60) scale(1 1.05)" font-size="20.85" text-anchor="end">32°N</text>
<text transform="translate(829.60 805.82) scale(1 1.05)" font-size="20.85" text-anchor="end">31.5°N</text>
<text transform="translate(829.60 892.03) scale(1 1.05)" font-size="20.85" text-anchor="end">31°N</text>
<text transform="translate(829.60 978.24) scale(1 1.05)" font-size="20.85" text-anchor="end">30.5°N</text>
<text transform="translate(829.60 1064.46) scale(1 1.05)" font-size="20.85" text-anchor="end">30°N</text>
<text transform="translate(829.60 1150.67) scale(1 1.05)" font-size="20.85" text-anchor="end">29.5°N</text>
<text transform="translate(829.60 1236.89) scale(1 1.05)" font-size="20.85" text-anchor="end">29°N</text>
<text transform="translate(912.20 1251.40) scale(1 1.05)" font-size="20.6" text-anchor="middle">121°E</text>
<text transform="translate(1060.10 1251.40) scale(1 1.05)" font-size="20.6" text-anchor="middle">122°E</text>
<text transform="translate(1208.00 1251.40) scale(1 1.05)" font-size="20.6" text-anchor="middle">123°E</text>
<text transform="translate(1355.90 1251.40) scale(1 1.05)" font-size="20.6" text-anchor="middle">124°E</text>
<text transform="translate(1137.40 690.80) scale(1 1.03)" font-size="34.6" text-anchor="middle">This study</text>
<text transform="translate(744.10 688.90) scale(1 1.02)" font-size="35.1">(C)</text>
<rect x="860" y="1185.0" width="74" height="14.6" fill="#000" stroke="#222" stroke-width="1"/>
<rect x="934" y="1185.0" width="74.4" height="14.6" fill="#fff" stroke="#222" stroke-width="1"/>
<text transform="translate(861.00 1216.20) scale(1 1.03)" font-size="15.2" text-anchor="middle">0</text>
<text transform="translate(933.00 1216.20) scale(1 1.03)" font-size="15.2" text-anchor="middle">50</text>
<text transform="translate(992.80 1216.20) scale(1 1.03)" font-size="15.2">100 km</text>
<path d="M1133.9 69.1L1133.9 88.0M1133.9 96.6L1133.9 116.0M1133.9 126.9L1133.9 145.1M1133.9 154.3L1133.9 173.1M1133.9 184.6L1133.9 202.9M1133.9 210.9L1133.9 229.7M1133.6 240.8L1133.6 259.0M1133.2 266.4L1132.6 283.4M1132.1 293.8L1128.8 310.9M1126.4 322.2L1123.6 339.3M1117.9 350.1L1113.0 367.2M1108.6 377.0L1102.7 393.7M1095.0 402.0L1088.5 418.6M1082.1 428.0L1075.5 444.7M1213.1 68.0L1220.0 85.7M1225.1 93.7L1230.3 112.0M1231.4 119.4L1235.4 137.1M1236.6 148.0L1240.0 165.7M1240.0 176.0L1240.0 194.9M1239.6 205.0L1239.6 224.0M1239.6 233.2L1239.6 251.8M1239.6 261.7L1239.6 280.3M1239.8 290.6L1239.8 309.2M1239.7 319.6L1239.7 338.1M1239.8 348.5L1239.8 366.6M1239.4 375.7L1239.4 393.8M1234.3 403.1L1228.3 419.9M1220.1 428.0L1211.1 443.4M1196.6 449.9L1182.4 461.4M1168.3 465.3L1152.9 474.3M1089.1 775.5L1089.1 794.2M1091.4 802.4L1097.8 819.2M1107.4 825.6L1115.1 842.0M1122.4 845.7L1132.0 861.6M1136.1 865.3L1139.7 882.6M1137.0 889.9L1137.0 907.7M1143.8 915.0L1149.8 931.9M1152.3 937.7L1156.1 955.3M1157.5 962.3L1157.5 980.7M1157.8 988.4L1157.8 1006.8M1157.5 1012.6L1157.5 1031.0M1153.8 1038.3L1150.7 1056.7M1146.5 1062.9L1143.0 1080.5M1264.6 796.1L1264.6 814.9M1260.9 823.6L1257.1 841.8M1251.5 847.1L1244.7 865.3M1237.4 873.4L1228.6 889.5M1225.3 898.9L1216.5 914.4M1212.5 917.1L1209.8 938.6M1216.5 944.6L1222.6 964.8M1230.0 972.9L1244.1 984.3M1252.8 990.3L1262.9 1006.5M1260.9 1016.6L1260.9 1036.1M1256.8 1048.2L1250.8 1066.3" fill="none" stroke="#000" stroke-width="3.6" stroke-linecap="butt"/>
<circle cx="1096" cy="92.7" r="7.0" fill="#000"/>
<circle cx="1058.7" cy="228.2" r="7.0" fill="#000"/>
<circle cx="1098.4" cy="228.0" r="7.0" fill="#000"/>
<circle cx="986.5" cy="266.8" r="7.0" fill="#000"/>
<circle cx="1058.4" cy="358.4" r="7.0" fill="#000"/>
<circle cx="1022.9" cy="394.4" r="7.0" fill="#000"/>
<circle cx="1058.5" cy="394.1" r="7.0" fill="#000"/>
<circle cx="1107.4" cy="902.6" r="7.0" fill="#000"/>
<circle cx="1082.1" cy="927.1" r="7.0" fill="#000"/>
<circle cx="1106.1" cy="929.5" r="7.0" fill="#000"/>
<circle cx="1131.6" cy="925.9" r="7.0" fill="#000"/>
<circle cx="1072.9" cy="973.7" r="7.0" fill="#000"/>
<circle cx="1108.7" cy="998.8" r="7.0" fill="#000"/>
<circle cx="1133.4" cy="998.8" r="7.0" fill="#000"/>
<circle cx="1109.1" cy="1028.5" r="7.0" fill="#000"/>
<circle cx="1132.9" cy="1055.1" r="7.0" fill="#000"/>
<path d="M1162.1 102.4L1181.1 102.4L1171.6 87.1Z" fill="#000"/>
<path d="M1198.6 188.6L1217.6 188.6L1208.1 173.3Z" fill="#000"/>
<path d="M1199.8 231.0L1218.8 231.0L1209.3 215.7Z" fill="#000"/>
<path d="M1201.0 316.4L1220.0 316.4L1210.5 301.1Z" fill="#000"/>
<path d="M1175.2 401.2L1194.2 401.2L1184.7 385.9Z" fill="#000"/>
<path d="M1200.3 401.2L1219.3 401.2L1209.8 385.9Z" fill="#000"/>
<path d="M1100.8 805.0L1119.8 805.0L1110.3 789.7Z" fill="#000"/>
<path d="M1158.1 805.0L1177.1 805.0L1167.6 789.7Z" fill="#000"/>
<path d="M1161.5 835.3L1180.5 835.3L1171.0 820.0Z" fill="#000"/>
<path d="M1199.4 843.8L1218.4 843.8L1208.9 828.5Z" fill="#000"/>
<path d="M1232.6 833.5L1251.6 833.5L1242.1 818.2Z" fill="#000"/>
<path d="M1159.0 864.5L1178.0 864.5L1168.5 849.2Z" fill="#000"/>
<path d="M1195.0 891.2L1214.0 891.2L1204.5 875.9Z" fill="#000"/>
<path d="M1143.3 911.8L1162.3 911.8L1152.8 896.5Z" fill="#000"/>
<path d="M1178.0 914.3L1197.0 914.3L1187.5 899.0Z" fill="#000"/>
<path d="M1159.0 933.7L1178.0 933.7L1168.5 918.4Z" fill="#000"/>
<path d="M1196.7 977.6L1215.7 977.6L1206.2 962.3Z" fill="#000"/>
<path d="M1199.9 1004.0L1218.9 1004.0L1209.4 988.7Z" fill="#000"/>
<path d="M1232.9 1006.2L1251.9 1006.2L1242.4 990.9Z" fill="#000"/>
<path d="M1200.4 1030.0L1219.4 1030.0L1209.9 1014.7Z" fill="#000"/>
<path d="M1232.0 1035.0L1251.0 1035.0L1241.5 1019.7Z" fill="#000"/>
<path d="M1164.6 1062.9L1183.6 1062.9L1174.1 1047.6Z" fill="#000"/>
<path d="M1197.1 1062.9L1216.1 1062.9L1206.6 1047.6Z" fill="#000"/>
<rect x="1276.6" y="218.2" width="13.4" height="13.4" fill="#000"/>
<rect x="1276.6" y="301.3" width="13.4" height="13.4" fill="#000"/>
<rect x="1348.8" y="301.3" width="13.4" height="13.4" fill="#000"/>
<rect x="1276.6" y="387.4" width="13.4" height="13.4" fill="#000"/>
<rect x="1314.2" y="387.4" width="13.4" height="13.4" fill="#000"/>
<rect x="1348.8" y="387.4" width="13.4" height="13.4" fill="#000"/>
<rect x="1199.6" y="471.7" width="13.4" height="13.4" fill="#000"/>
<rect x="1276.4" y="471.2" width="13.4" height="13.4" fill="#000"/>
<rect x="1348.6" y="471.2" width="13.4" height="13.4" fill="#000"/>
<text transform="translate(1096.50 81.20) scale(1 1.045)" font-size="20.3" text-anchor="middle">18</text>
<text transform="translate(1173.50 84.30) scale(1 1.045)" font-size="20.3" text-anchor="middle">19</text>
<text transform="translate(1220.90 169.70) scale(1 1.045)" font-size="20.3" text-anchor="middle">17</text>
<text transform="translate(1195.80 221.90) scale(1 1.045)" font-size="20.3" text-anchor="middle">15</text>
<text transform="translate(1277.20 213.00) scale(1 1.045)" font-size="20.3" text-anchor="middle">16</text>
<text transform="translate(1100.20 216.10) scale(1 1.045)" font-size="20.3" text-anchor="middle">14</text>
<text transform="translate(1059.50 219.50) scale(1 1.045)" font-size="20.3" text-anchor="middle">13</text>
<text transform="translate(981.20 290.20) scale(1 1.045)" font-size="20.3" text-anchor="middle">12</text>
<text transform="translate(1210.60 335.80) scale(1 1.045)" font-size="20.3" text-anchor="middle">9</text>
<text transform="translate(1283.20 334.90) scale(1 1.045)" font-size="20.3" text-anchor="middle">10</text>
<text transform="translate(1358.60 334.90) scale(1 1.045)" font-size="20.3" text-anchor="middle">11</text>
<text transform="translate(1043.60 368.80) scale(1 1.045)" font-size="20.3" text-anchor="middle">8</text>
<text transform="translate(1019.00 419.10) scale(1 1.045)" font-size="20.3" text-anchor="middle">1</text>
<text transform="translate(1056.60 421.30) scale(1 1.045)" font-size="20.3" text-anchor="middle">2</text>
<text transform="translate(1180.80 419.10) scale(1 1.045)" font-size="20.3" text-anchor="middle">3</text>
<text transform="translate(1210.30 418.20) scale(1 1.045)" font-size="20.3" text-anchor="middle">4</text>
<text transform="translate(1280.50 420.70) scale(1 1.045)" font-size="20.3" text-anchor="middle">5</text>
<text transform="translate(1319.90 418.20) scale(1 1.045)" font-size="20.3" text-anchor="middle">6</text>
<text transform="translate(1356.00 422.90) scale(1 1.045)" font-size="20.3" text-anchor="middle">7</text>
<text transform="translate(1207.30 504.00) scale(1 1.045)" font-size="20.3" text-anchor="middle">20</text>
<text transform="translate(1284.50 505.60) scale(1 1.045)" font-size="20.3" text-anchor="middle">21</text>
<text transform="translate(1353.30 505.60) scale(1 1.045)" font-size="20.3" text-anchor="middle">22</text>
<text transform="translate(1111.40 787.40) scale(1 1.045)" font-size="20.3" text-anchor="middle">43</text>
<text transform="translate(1160.80 786.20) scale(1 1.045)" font-size="20.3" text-anchor="middle">44</text>
<text transform="translate(1155.90 823.80) scale(1 1.045)" font-size="20.3" text-anchor="middle">45</text>
<text transform="translate(1198.00 828.20) scale(1 1.045)" font-size="20.3" text-anchor="middle">47</text>
<text transform="translate(1231.70 817.70) scale(1 1.045)" font-size="20.3" text-anchor="middle">46</text>
<text transform="translate(1153.30 854.90) scale(1 1.045)" font-size="20.3" text-anchor="middle">48</text>
<text transform="translate(1203.70 873.60) scale(1 1.045)" font-size="20.3" text-anchor="middle">26</text>
<text transform="translate(1105.80 891.80) scale(1 1.045)" font-size="20.3" text-anchor="middle">27</text>
<text transform="translate(1153.30 895.90) scale(1 1.045)" font-size="20.3" text-anchor="middle">28</text>
<text transform="translate(1178.50 900.30) scale(1 1.045)" font-size="20.3" text-anchor="middle">29</text>
<text transform="translate(1072.00 949.10) scale(1 1.045)" font-size="20.3" text-anchor="middle">30</text>
<text transform="translate(1103.50 953.70) scale(1 1.045)" font-size="20.3" text-anchor="middle">31</text>
<text transform="translate(1134.30 949.60) scale(1 1.045)" font-size="20.3" text-anchor="middle">32</text>
<text transform="translate(1176.60 951.30) scale(1 1.045)" font-size="20.3" text-anchor="middle">33</text>
<text transform="translate(1054.60 990.00) scale(1 1.045)" font-size="20.3" text-anchor="middle">34</text>
<text transform="translate(1107.30 989.40) scale(1 1.045)" font-size="20.3" text-anchor="middle">36</text>
<text transform="translate(1138.20 988.30) scale(1 1.045)" font-size="20.3" text-anchor="middle">37</text>
<text transform="translate(1190.00 970.80) scale(1 1.045)" font-size="20.3" text-anchor="middle">35</text>
<text transform="translate(1190.00 1000.90) scale(1 1.045)" font-size="20.3" text-anchor="middle">38</text>
<text transform="translate(1229.40 997.50) scale(1 1.045)" font-size="20.3" text-anchor="middle">39</text>
<text transform="translate(1188.60 1030.60) scale(1 1.045)" font-size="20.3" text-anchor="middle">41</text>
<text transform="translate(1239.20 1054.70) scale(1 1.045)" font-size="20.3" text-anchor="middle">42</text>
<text transform="translate(1091.60 1042.60) scale(1 1.045)" font-size="20.3" text-anchor="middle">40</text>
<text transform="translate(1123.10 1080.70) scale(1 1.045)" font-size="20.3" text-anchor="middle">23</text>
<text transform="translate(1168.80 1080.70) scale(1 1.045)" font-size="20.3" text-anchor="middle">24</text>
<text transform="translate(1203.10 1080.70) scale(1 1.045)" font-size="20.3" text-anchor="middle">25</text>
<text transform="translate(1055.60 311.70) scale(1 1.03)" font-size="62.5" text-anchor="middle">ES</text>
<text transform="translate(1178.50 165.50) scale(1 1.03)" font-size="62.5" text-anchor="middle">IS</text>
<text transform="translate(1330.80 165.40) scale(1 1.03)" font-size="62.5" text-anchor="middle">OS</text>
<text transform="translate(1015.40 966.90) scale(1 1.03)" font-size="62.5" text-anchor="middle">ES</text>
<text transform="translate(1201.30 778.80) scale(1 1.03)" font-size="62.5" text-anchor="middle">IS</text>
<defs><clipPath id="pc"><rect x="156" y="1370.9" width="1176.5" height="599.6"/></clipPath></defs>
<g clip-path="url(#pc)" fill="none" stroke="#000" stroke-width="1.8">
<ellipse cx="788.8" cy="1508" rx="274.4" ry="182"/>
<ellipse cx="455.7" cy="1761.7" rx="209" ry="158.7"/>
<ellipse cx="1065.6" cy="1797.8" rx="134.5" ry="168.2"/>
</g>
<rect x="156.0" y="1370.9" width="1176.5" height="599.5999999999999" fill="none" stroke="#000" stroke-width="2"/>
<path d="M423.2 1970.5V1987M719.2 1970.5V1987M1015.2 1970.5V1987M1311.2 1970.5V1987M156.0 1402.2H140.3M156.0 1520.6H140.3M156.0 1639.0H140.3M156.0 1757.4H140.3M156.0 1875.8H140.3" stroke="#000" stroke-width="1.9" fill="none"/>
<text transform="translate(423.20 2026.80) scale(1 1.03)" font-size="25" text-anchor="middle">−0.5</text>
<text transform="translate(719.20 2026.80) scale(1 1.03)" font-size="25" text-anchor="middle">0.0</text>
<text transform="translate(1015.20 2026.80) scale(1 1.03)" font-size="25" text-anchor="middle">0.5</text>
<text transform="translate(1311.20 2026.80) scale(1 1.03)" font-size="25" text-anchor="middle">1.0</text>
<text transform="translate(119.80 1402.24) rotate(-90) scale(1 1.03)" font-size="25" text-anchor="middle">0.4</text>
<text transform="translate(119.80 1520.62) rotate(-90) scale(1 1.03)" font-size="25" text-anchor="middle">0.2</text>
<text transform="translate(119.80 1639.00) rotate(-90) scale(1 1.03)" font-size="25" text-anchor="middle">0.0</text>
<text transform="translate(119.80 1757.38) rotate(-90) scale(1 1.03)" font-size="25" text-anchor="middle">−0.2</text>
<text transform="translate(119.80 1875.76) rotate(-90) scale(1 1.03)" font-size="25" text-anchor="middle">−0.4</text>
<text transform="translate(743.00 2080.00)" font-size="27.5" text-anchor="middle">NMDS1</text>
<text transform="translate(58.70 1668.30) rotate(-90)" font-size="27.8" text-anchor="middle">NMDS2</text>
<text transform="translate(52.60 1356.40) scale(1 1.01)" font-size="39.2">(D)</text>
<text transform="translate(1161.60 1359.60)" font-size="29.4">Stress: 0.11</text>
<rect x="1085.7" y="1370.8" width="246.9" height="85.7" fill="#fff" stroke="#000" stroke-width="2"/>
<rect x="1097.4" y="1381.1" width="23.8" height="24.4" fill="#b3b3b3" stroke="#1a1a1a" stroke-width="1.4" stroke-linejoin="round"/>
<path d="M1128.6 1405.9L1160.6 1405.9L1144.6 1378.4Z" fill="#b3b3b3" stroke="#1a1a1a" stroke-width="1.4" stroke-linejoin="round"/>
<path d="M1191.40 1398.38Q1188.35 1402.95 1183.78 1406.00L1173.02 1406.00Q1168.45 1402.95 1165.40 1398.38L1165.40 1387.62Q1168.45 1383.05 1173.02 1380.00L1183.78 1380.00Q1188.35 1383.05 1191.40 1387.62L1191.40 1398.38Z" fill="#b3b3b3" stroke="#1a1a1a" stroke-width="1.5" stroke-linejoin="round"/>
<text transform="translate(1213.30 1402.10)" font-size="26.5">1980s</text>
<path d="M1128.7 1446.6L1160.3 1446.6L1144.5 1419.4Z" fill="#000"/>
<circle cx="1177.9" cy="1433.6" r="12.85" fill="#000"/>
<text transform="translate(1205.10 1441.10) scale(1 1.02)" font-size="26.3">This study</text>
<rect x="1002.6" y="1654.9" width="23.8" height="24.6" fill="#b3b3b3" stroke="#1a1a1a" stroke-width="1.4" stroke-linejoin="round"/>
<rect x="984.4" y="1705.7" width="23.8" height="24.6" fill="#b3b3b3" stroke="#1a1a1a" stroke-width="1.4" stroke-linejoin="round"/>
<rect x="1025.7" y="1702.1" width="23.8" height="24.6" fill="#b3b3b3" stroke="#1a1a1a" stroke-width="1.4" stroke-linejoin="round"/>
<rect x="1002.6" y="1730.0" width="23.8" height="24.6" fill="#b3b3b3" stroke="#1a1a1a" stroke-width="1.4" stroke-linejoin="round"/>
<rect x="1069.1" y="1784.6" width="23.8" height="24.6" fill="#b3b3b3" stroke="#1a1a1a" stroke-width="1.4" stroke-linejoin="round"/>
<rect x="1150.5" y="1799.5" width="23.8" height="24.6" fill="#b3b3b3" stroke="#1a1a1a" stroke-width="1.4" stroke-linejoin="round"/>
<rect x="1087.4" y="1832.8" width="23.8" height="24.6" fill="#b3b3b3" stroke="#1a1a1a" stroke-width="1.4" stroke-linejoin="round"/>
<rect x="1064.8" y="1869.3" width="23.8" height="24.6" fill="#b3b3b3" stroke="#1a1a1a" stroke-width="1.4" stroke-linejoin="round"/>
<rect x="1072.4" y="1933.1" width="23.8" height="24.6" fill="#b3b3b3" stroke="#1a1a1a" stroke-width="1.4" stroke-linejoin="round"/>
<path d="M627.6 1403.9L659.6 1403.9L643.6 1376.5Z" fill="#b3b3b3" stroke="#1a1a1a" stroke-width="1.4" stroke-linejoin="round"/>
<path d="M744.6 1432.6L776.6 1432.6L760.6 1405.2Z" fill="#b3b3b3" stroke="#1a1a1a" stroke-width="1.4" stroke-linejoin="round"/>
<path d="M941.3 1406.0L973.3 1406.0L957.3 1378.6Z" fill="#b3b3b3" stroke="#1a1a1a" stroke-width="1.4" stroke-linejoin="round"/>
<path d="M851.3 1453.6L883.3 1453.6L867.3 1426.2Z" fill="#b3b3b3" stroke="#1a1a1a" stroke-width="1.4" stroke-linejoin="round"/>
<path d="M842.3 1520.5L874.3 1520.5L858.3 1493.1Z" fill="#b3b3b3" stroke="#1a1a1a" stroke-width="1.4" stroke-linejoin="round"/>
<path d="M751.9 1674.8L783.9 1674.8L767.9 1647.4Z" fill="#b3b3b3" stroke="#1a1a1a" stroke-width="1.4" stroke-linejoin="round"/>
<path d="M722.9 1405.6L754.5 1405.6L738.7 1378.3Z" fill="#000"/>
<path d="M803.5 1431.3L835.1 1431.3L819.3 1404.0Z" fill="#000"/>
<path d="M697.2 1481.4L728.8 1481.4L713.0 1454.1Z" fill="#000"/>
<path d="M782.9 1488.7L814.5 1488.7L798.7 1461.4Z" fill="#000"/>
<path d="M722.1 1505.4L753.7 1505.4L737.9 1478.1Z" fill="#000"/>
<path d="M574.2 1520.4L605.8 1520.4L590.0 1493.1Z" fill="#000"/>
<path d="M602.1 1537.1L633.7 1537.1L617.9 1509.8Z" fill="#000"/>
<path d="M535.6 1550.4L567.2 1550.4L551.4 1523.1Z" fill="#000"/>
<path d="M690.8 1535.4L722.4 1535.4L706.6 1508.1Z" fill="#000"/>
<path d="M703.7 1571.0L735.3 1571.0L719.5 1543.7Z" fill="#000"/>
<path d="M776.5 1575.3L808.1 1575.3L792.3 1548.0Z" fill="#000"/>
<path d="M810.8 1578.8L842.4 1578.8L826.6 1551.5Z" fill="#000"/>
<path d="M760.7 1598.4L792.3 1598.4L776.5 1571.1Z" fill="#000"/>
<path d="M788.1 1596.4L819.7 1596.4L803.9 1569.1Z" fill="#000"/>
<path d="M665.1 1608.7L696.7 1608.7L680.9 1581.4Z" fill="#000"/>
<path d="M843.0 1643.0L874.6 1643.0L858.8 1615.7Z" fill="#000"/>
<path d="M900.0 1633.6L931.6 1633.6L915.8 1606.3Z" fill="#000"/>
<path d="M504.80 1719.40Q501.80 1723.90 497.30 1726.90L486.70 1726.90Q482.20 1723.90 479.20 1719.40L479.20 1708.80Q482.20 1704.30 486.70 1701.30L497.30 1701.30Q501.80 1704.30 504.80 1708.80L504.80 1719.40Z" fill="#b3b3b3" stroke="#1a1a1a" stroke-width="1.5" stroke-linejoin="round"/>
<path d="M574.50 1798.10Q571.50 1802.60 567.00 1805.60L556.40 1805.60Q551.90 1802.60 548.90 1798.10L548.90 1787.50Q551.90 1783.00 556.40 1780.00L567.00 1780.00Q571.50 1783.00 574.50 1787.50L574.50 1798.10Z" fill="#b3b3b3" stroke="#1a1a1a" stroke-width="1.5" stroke-linejoin="round"/>
<path d="M646.80 1813.20Q643.80 1817.70 639.30 1820.70L628.70 1820.70Q624.20 1817.70 621.20 1813.20L621.20 1802.60Q624.20 1798.10 628.70 1795.10L639.30 1795.10Q643.80 1798.10 646.80 1802.60L646.80 1813.20Z" fill="#b3b3b3" stroke="#1a1a1a" stroke-width="1.5" stroke-linejoin="round"/>
<path d="M436.00 1834.10Q433.00 1838.60 428.50 1841.60L417.90 1841.60Q413.40 1838.60 410.40 1834.10L410.40 1823.50Q413.40 1819.00 417.90 1816.00L428.50 1816.00Q433.00 1819.00 436.00 1823.50L436.00 1834.10Z" fill="#b3b3b3" stroke="#1a1a1a" stroke-width="1.5" stroke-linejoin="round"/>
<path d="M469.40 1856.90Q466.40 1861.40 461.90 1864.40L451.30 1864.40Q446.80 1861.40 443.80 1856.90L443.80 1846.30Q446.80 1841.80 451.30 1838.80L461.90 1838.80Q466.40 1841.80 469.40 1846.30L469.40 1856.90Z" fill="#b3b3b3" stroke="#1a1a1a" stroke-width="1.5" stroke-linejoin="round"/>
<path d="M523.40 1851.80Q520.40 1856.30 515.90 1859.30L505.30 1859.30Q500.80 1856.30 497.80 1851.80L497.80 1841.20Q500.80 1836.70 505.30 1833.70L515.90 1833.70Q520.40 1836.70 523.40 1841.20L523.40 1851.80Z" fill="#b3b3b3" stroke="#1a1a1a" stroke-width="1.5" stroke-linejoin="round"/>
<path d="M338.30 1862.40Q335.30 1866.90 330.80 1869.90L320.20 1869.90Q315.70 1866.90 312.70 1862.40L312.70 1851.80Q315.70 1847.30 320.20 1844.30L330.80 1844.30Q335.30 1847.30 338.30 1851.80L338.30 1862.40Z" fill="#b3b3b3" stroke="#1a1a1a" stroke-width="1.5" stroke-linejoin="round"/>
<circle cx="364.7" cy="1636.6" r="12.4" fill="#000"/>
<circle cx="494.9" cy="1637.3" r="12.4" fill="#000"/>
<circle cx="406.8" cy="1668.8" r="12.4" fill="#000"/>
<circle cx="462.1" cy="1666.2" r="12.4" fill="#000"/>
<circle cx="388.8" cy="1694.5" r="12.4" fill="#000"/>
<circle cx="433.8" cy="1706.4" r="12.4" fill="#000"/>
<circle cx="447.6" cy="1714.4" r="12.4" fill="#000"/>
<circle cx="421.0" cy="1730.5" r="12.4" fill="#000"/>
<circle cx="451.5" cy="1738.8" r="12.4" fill="#000"/>
<text transform="translate(937.80 1526.20) scale(1 1.03)" font-size="63.5">IS</text>
<text transform="translate(271.00 1743.20) scale(1 1.03)" font-size="63.5">ES</text>
<text transform="translate(1082.90 1729.50) scale(1 1.03)" font-size="63.5">OS</text>
</svg>
</body></html>
